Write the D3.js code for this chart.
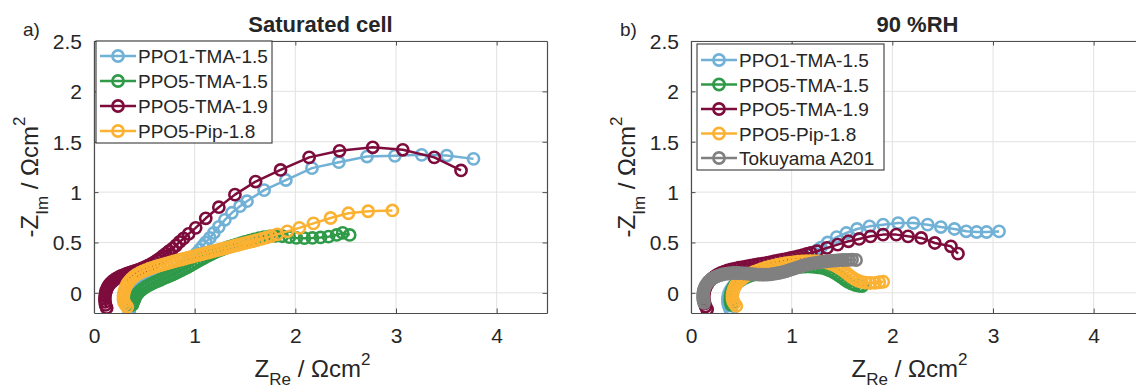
<!DOCTYPE html>
<html><head><meta charset="utf-8">
<script src="https://cdn.jsdelivr.net/npm/d3@7"></script>
<style>
body{margin:0;background:#fff}
svg{display:block}
text{font-family:"Liberation Sans",Arial,Helvetica,sans-serif;fill:#262626}
</style>
</head><body>
<svg id="chart" width="1136" height="392"></svg>
<script>
// ---------- data ----------
const xTicks = [0, 1, 2, 3, 4];
const xTickLabels = ["0", "1", "2", "3", "4"];
const yTicks = [0, 0.5, 1, 1.5, 2, 2.5];
const yTickLabels = ["0", "0.5", "1", "1.5", "2", "2.5"];
const xDomain = [0, 4.5];
const yDomain = [-0.2, 2.5];

const seriesNames = ["PPO1-TMA-1.5", "PPO5-TMA-1.5", "PPO5-TMA-1.9", "PPO5-Pip-1.8", "Tokuyama A201"];
const panelTitles = ["Saturated cell", "90 %RH"];
const panelLetters = ["a)", "b)"];

// Saturated cell
const satPPO1TMA15 = [[0.35,-0.19],[0.345,-0.16],[0.342,-0.13],[0.343,-0.10],[0.347,-0.07],[0.354,-0.045],[0.363,-0.02],[0.375,0.0],[0.39,0.02],[0.41,0.04],[0.43,0.055],[0.455,0.07],[0.48,0.082],[0.51,0.093],[0.54,0.103],[0.57,0.113],[0.60,0.123],[0.63,0.133],[0.66,0.143],[0.69,0.155],[0.72,0.167],[0.75,0.18],[0.78,0.196],[0.81,0.215],[0.84,0.237],[0.87,0.26],[0.90,0.285],[0.93,0.31],[0.96,0.337],[0.99,0.365],[1.02,0.395],[1.05,0.43],[1.08,0.465],[1.11,0.50],[1.15,0.545],[1.19,0.595],[1.24,0.655],[1.30,0.725],[1.37,0.795],[1.45,0.86],[1.52,0.91],[1.69,1.02],[1.906,1.12],[2.165,1.238],[2.432,1.297],[2.712,1.353],[2.989,1.36],[3.255,1.37],[3.504,1.363],[3.77,1.33]];
const satPPO5TMA15 = [[0.38,-0.12],[0.39,-0.095],[0.40,-0.07],[0.41,-0.045],[0.425,-0.02],[0.44,0.0],[0.46,0.02],[0.485,0.04],[0.51,0.058],[0.54,0.075],[0.57,0.09],[0.60,0.104],[0.63,0.117],[0.66,0.13],[0.69,0.143],[0.72,0.156],[0.75,0.169],[0.78,0.182],[0.81,0.196],[0.84,0.21],[0.87,0.225],[0.90,0.24],[0.93,0.256],[0.96,0.273],[0.99,0.29],[1.02,0.307],[1.05,0.324],[1.08,0.34],[1.11,0.356],[1.14,0.372],[1.17,0.387],[1.20,0.401],[1.235,0.416],[1.27,0.43],[1.305,0.443],[1.34,0.456],[1.38,0.469],[1.42,0.482],[1.46,0.494],[1.50,0.506],[1.545,0.518],[1.59,0.53],[1.64,0.542],[1.69,0.553],[1.745,0.561],[1.80,0.565],[1.87,0.562],[1.94,0.553],[2.01,0.545],[2.09,0.543],[2.17,0.545],[2.25,0.55],[2.33,0.558],[2.41,0.575],[2.47,0.595],[2.54,0.575]];
const satPPO5TMA19 = [[0.126,-0.15],[0.115,-0.12],[0.11,-0.09],[0.108,-0.06],[0.11,-0.03],[0.115,0.0],[0.122,0.025],[0.132,0.05],[0.145,0.072],[0.16,0.092],[0.178,0.11],[0.198,0.127],[0.22,0.142],[0.245,0.156],[0.27,0.168],[0.297,0.179],[0.325,0.19],[0.355,0.2],[0.385,0.21],[0.415,0.22],[0.445,0.231],[0.475,0.243],[0.505,0.256],[0.535,0.27],[0.565,0.286],[0.595,0.303],[0.625,0.322],[0.655,0.343],[0.685,0.366],[0.715,0.39],[0.745,0.415],[0.78,0.44],[0.815,0.47],[0.85,0.505],[0.89,0.54],[0.94,0.585],[1.01,0.645],[1.11,0.74],[1.24,0.85],[1.40,0.975],[1.605,1.105],[1.853,1.22],[2.137,1.345],[2.439,1.41],[2.769,1.445],[3.067,1.42],[3.38,1.345],[3.646,1.215]];
const satPPO5Pip18 = [[0.33,-0.14],[0.31,-0.115],[0.298,-0.09],[0.292,-0.06],[0.292,-0.03],[0.297,0.0],[0.305,0.03],[0.316,0.06],[0.33,0.088],[0.348,0.114],[0.37,0.138],[0.395,0.16],[0.422,0.18],[0.452,0.197],[0.484,0.212],[0.516,0.226],[0.55,0.239],[0.585,0.251],[0.62,0.262],[0.655,0.272],[0.69,0.282],[0.725,0.292],[0.76,0.302],[0.795,0.312],[0.83,0.322],[0.865,0.331],[0.90,0.34],[0.935,0.349],[0.97,0.358],[1.005,0.367],[1.04,0.376],[1.075,0.385],[1.11,0.394],[1.145,0.403],[1.18,0.412],[1.215,0.421],[1.25,0.43],[1.285,0.439],[1.32,0.448],[1.355,0.457],[1.39,0.466],[1.425,0.475],[1.46,0.484],[1.50,0.493],[1.54,0.503],[1.58,0.513],[1.62,0.523],[1.665,0.535],[1.71,0.548],[1.76,0.562],[1.82,0.58],[1.92,0.61],[2.04,0.645],[2.18,0.69],[2.35,0.743],[2.527,0.79],[2.723,0.81],[2.964,0.818]];

// 90 %RH
const rhPPO1TMA15 = [[0.40,-0.18],[0.385,-0.155],[0.373,-0.125],[0.367,-0.095],[0.366,-0.065],[0.37,-0.035],[0.378,-0.005],[0.39,0.022],[0.406,0.048],[0.426,0.072],[0.45,0.094],[0.477,0.114],[0.507,0.132],[0.54,0.149],[0.575,0.165],[0.612,0.18],[0.65,0.194],[0.69,0.207],[0.73,0.22],[0.77,0.232],[0.81,0.244],[0.85,0.256],[0.89,0.268],[0.93,0.28],[0.97,0.293],[1.01,0.307],[1.05,0.322],[1.09,0.338],[1.13,0.356],[1.17,0.376],[1.21,0.398],[1.25,0.422],[1.29,0.448],[1.358,0.50],[1.447,0.554],[1.543,0.594],[1.649,0.634],[1.773,0.66],[1.908,0.677],[2.057,0.693],[2.209,0.693],[2.351,0.677],[2.482,0.653],[2.617,0.634],[2.734,0.611],[2.837,0.604],[2.936,0.604],[3.06,0.61]];
const rhPPO5TMA15 = [[0.40,-0.12],[0.392,-0.09],[0.39,-0.06],[0.392,-0.03],[0.398,0.0],[0.408,0.03],[0.422,0.057],[0.44,0.082],[0.462,0.105],[0.488,0.125],[0.517,0.143],[0.55,0.158],[0.585,0.171],[0.622,0.182],[0.66,0.192],[0.70,0.201],[0.74,0.209],[0.78,0.216],[0.82,0.223],[0.86,0.229],[0.90,0.235],[0.94,0.241],[0.98,0.246],[1.02,0.251],[1.06,0.255],[1.10,0.258],[1.14,0.26],[1.18,0.26],[1.22,0.258],[1.26,0.254],[1.30,0.247],[1.34,0.237],[1.375,0.224],[1.41,0.208],[1.44,0.19],[1.47,0.17],[1.50,0.15],[1.53,0.13],[1.56,0.11],[1.595,0.092],[1.63,0.078],[1.67,0.07],[1.70,0.068]];
const rhPPO5TMA19 = [[0.16,-0.165],[0.145,-0.135],[0.135,-0.105],[0.128,-0.075],[0.126,-0.045],[0.128,-0.015],[0.133,0.015],[0.142,0.045],[0.155,0.073],[0.172,0.10],[0.192,0.125],[0.215,0.147],[0.24,0.166],[0.268,0.183],[0.298,0.198],[0.33,0.211],[0.364,0.222],[0.40,0.232],[0.437,0.241],[0.475,0.249],[0.513,0.256],[0.552,0.263],[0.591,0.27],[0.63,0.277],[0.67,0.284],[0.71,0.291],[0.75,0.298],[0.79,0.306],[0.83,0.314],[0.87,0.322],[0.91,0.33],[0.95,0.338],[0.99,0.346],[1.03,0.355],[1.07,0.365],[1.11,0.375],[1.15,0.386],[1.19,0.397],[1.252,0.413],[1.351,0.446],[1.457,0.479],[1.564,0.512],[1.67,0.535],[1.784,0.561],[1.908,0.578],[2.039,0.578],[2.156,0.561],[2.287,0.545],[2.422,0.495],[2.582,0.462],[2.652,0.389]];
const rhPPO5Pip18 = [[0.45,-0.13],[0.43,-0.105],[0.418,-0.08],[0.412,-0.05],[0.412,-0.02],[0.417,0.01],[0.426,0.04],[0.44,0.068],[0.458,0.094],[0.48,0.118],[0.505,0.14],[0.533,0.16],[0.564,0.178],[0.597,0.195],[0.632,0.21],[0.668,0.224],[0.705,0.237],[0.743,0.249],[0.782,0.26],[0.822,0.27],[0.862,0.279],[0.902,0.287],[0.943,0.294],[0.984,0.30],[1.025,0.305],[1.066,0.309],[1.107,0.312],[1.148,0.314],[1.189,0.315],[1.23,0.315],[1.27,0.313],[1.31,0.309],[1.35,0.301],[1.385,0.29],[1.418,0.277],[1.45,0.26],[1.48,0.242],[1.51,0.222],[1.54,0.20],[1.568,0.178],[1.597,0.156],[1.627,0.136],[1.66,0.12],[1.695,0.108],[1.735,0.101],[1.78,0.098],[1.83,0.10],[1.87,0.105],[1.91,0.11]];
const rhTokuyamaA201 = [[0.13,-0.10],[0.124,-0.075],[0.12,-0.05],[0.12,-0.025],[0.122,0.0],[0.127,0.025],[0.134,0.048],[0.144,0.07],[0.157,0.09],[0.172,0.108],[0.19,0.125],[0.21,0.14],[0.232,0.153],[0.256,0.164],[0.282,0.174],[0.31,0.182],[0.34,0.188],[0.37,0.192],[0.40,0.195],[0.43,0.197],[0.46,0.197],[0.49,0.196],[0.52,0.194],[0.55,0.192],[0.58,0.189],[0.61,0.186],[0.64,0.183],[0.67,0.181],[0.70,0.18],[0.73,0.18],[0.76,0.181],[0.79,0.184],[0.82,0.188],[0.85,0.193],[0.88,0.199],[0.91,0.206],[0.94,0.214],[0.97,0.223],[1.00,0.233],[1.03,0.243],[1.06,0.253],[1.09,0.263],[1.12,0.272],[1.15,0.28],[1.18,0.287],[1.21,0.293],[1.24,0.298],[1.27,0.303],[1.30,0.307],[1.33,0.311],[1.36,0.314],[1.39,0.317],[1.42,0.32],[1.45,0.322],[1.48,0.324],[1.51,0.326],[1.54,0.327],[1.57,0.328],[1.60,0.329],[1.64,0.326]];

// ---------- style ----------
const seriesColors = ["#72b1d6", "#2f9a48", "#7d0c3c", "#fbb233", "#808080"];

const panels = [
  {title: panelTitles[0], letter: panelLetters[0], left: 94, top: 41, width: 453, height: 272,
   series: [satPPO1TMA15, satPPO5TMA15, satPPO5TMA19, satPPO5Pip18],
   legend: {x: 96, y: 41, w: 176, h: 102, row0: 15, rowH: 25}},
  {title: panelTitles[1], letter: panelLetters[1], left: 691, top: 41, width: 453, height: 272,
   series: [rhPPO1TMA15, rhPPO5TMA15, rhPPO5TMA19, rhPPO5Pip18, rhTokuyamaA201],
   legend: {x: 697, y: 44, w: 187, h: 126, row0: 16, rowH: 24.5}}
];

const svg = d3.select("#chart");
svg.append("rect").attr("width", 1136).attr("height", 392).attr("fill", "#fff");

panels.forEach((p, pi) => {
  const x = d3.scaleLinear().domain(xDomain).range([p.left, p.left + p.width]);
  const y = d3.scaleLinear().domain(yDomain).range([p.top + p.height, p.top]);
  const g = svg.append("g");

  const clipId = "clip" + pi;
  svg.append("clipPath").attr("id", clipId).append("rect")
    .attr("x", p.left).attr("y", p.top).attr("width", p.width).attr("height", p.height);

  // grid
  g.append("g").selectAll("line").data(xTicks).join("line")
    .attr("x1", d => x(d)).attr("x2", d => x(d)).attr("y1", p.top).attr("y2", p.top + p.height)
    .attr("stroke", "#e2e2e2").attr("stroke-width", 1);
  g.append("g").selectAll("line").data(yTicks).join("line")
    .attr("y1", d => y(d)).attr("y2", d => y(d)).attr("x1", p.left).attr("x2", p.left + p.width)
    .attr("stroke", "#e2e2e2").attr("stroke-width", 1);

  // data
  const line = d3.line().x(d => x(d[0])).y(d => y(d[1]));
  const dg = g.append("g").attr("clip-path", `url(#${clipId})`);
  p.series.forEach((s, si) => {
    const col = seriesColors[si];
    dg.append("path").datum(s).attr("d", line).attr("fill", "none")
      .attr("stroke", col).attr("stroke-width", 2.5).attr("stroke-linejoin", "round");
    dg.append("g").selectAll("circle").data(s).join("circle")
      .attr("cx", d => x(d[0])).attr("cy", d => y(d[1])).attr("r", 5.6)
      .attr("fill", "none").attr("stroke", col).attr("stroke-width", 2.6);
  });

  // axes (box with inward ticks)
  const ax = g.append("g");
  const axB = ax.append("g").attr("transform", `translate(0,${p.top + p.height})`)
    .call(d3.axisBottom(x).tickValues(xTicks).tickFormat((d, i) => xTickLabels[i]).tickSizeInner(-4.5).tickSizeOuter(0).tickPadding(14));
  const axT = ax.append("g").attr("transform", `translate(0,${p.top})`)
    .call(d3.axisTop(x).tickValues(xTicks).tickFormat("").tickSizeInner(-4.5).tickSizeOuter(0));
  const axL = ax.append("g").attr("transform", `translate(${p.left},0)`)
    .call(d3.axisLeft(y).tickValues(yTicks).tickFormat((d, i) => yTickLabels[i]).tickSizeInner(-4.5).tickSizeOuter(0).tickPadding(12));
  const axR = ax.append("g").attr("transform", `translate(${p.left + p.width},0)`)
    .call(d3.axisRight(y).tickValues(yTicks).tickFormat("").tickSizeInner(-4.5).tickSizeOuter(0));
  [axB, axT, axL, axR].forEach(a => {
    a.select(".domain").attr("stroke", "#4d4d4d").attr("stroke-width", 1.2);
    a.selectAll(".tick line").attr("stroke", "#4d4d4d").attr("stroke-width", 1);
    a.selectAll("text").attr("font-size", 21).attr("fill", "#262626")
      .attr("font-family", '"Liberation Sans", Arial, sans-serif');
  });
  axB.selectAll("text").attr("dy", null).attr("y", 30);
  axL.selectAll("text").attr("dy", "0.35em");

  // title
  svg.append("text").attr("x", p.left + p.width / 2).attr("y", 32).attr("text-anchor", "middle")
    .attr("font-size", 22).attr("font-weight", "bold").attr("fill", "#000").text(p.title);
  // panel letter
  svg.append("text").attr("x", p.left - 71).attr("y", 36).attr("font-size", 19).attr("fill", "#000").text(p.letter);

  // x label
  const xl = svg.append("text").attr("x", p.left + p.width / 2 - 8).attr("y", 377).attr("text-anchor", "middle")
    .attr("font-size", 24);
  xl.append("tspan").text("Z");
  xl.append("tspan").attr("font-size", 17).attr("dy", 8).text("Re");
  xl.append("tspan").attr("dy", -8).text(" / \u03A9cm");
  xl.append("tspan").attr("font-size", 17).attr("dy", -12).text("2");

  // y label
  const yl = svg.append("text").attr("transform", `translate(${p.left - 56},${p.top + p.height / 2}) rotate(-90)`)
    .attr("text-anchor", "middle").attr("font-size", 24);
  yl.append("tspan").text("-Z");
  yl.append("tspan").attr("font-size", 17).attr("dy", 10).text("Im");
  yl.append("tspan").attr("dy", -10).text(" / \u03A9cm");
  yl.append("tspan").attr("font-size", 17).attr("dy", -13).text("2");

  // legend
  const L = p.legend;
  const lg = svg.append("g");
  lg.append("rect").attr("x", L.x).attr("y", L.y).attr("width", L.w).attr("height", L.h)
    .attr("fill", "#fff").attr("stroke", "#262626").attr("stroke-width", 1);
  p.series.forEach((s, si) => {
    const cy = L.y + L.row0 + si * L.rowH;
    const col = seriesColors[si];
    lg.append("line").attr("x1", L.x + 4).attr("x2", L.x + 40).attr("y1", cy).attr("y2", cy)
      .attr("stroke", col).attr("stroke-width", 2.5);
    lg.append("circle").attr("cx", L.x + 22).attr("cy", cy).attr("r", 5.6)
      .attr("fill", "none").attr("stroke", col).attr("stroke-width", 2.6);
    lg.append("text").attr("x", L.x + 42).attr("y", cy + 7).attr("font-size", 19).attr("fill", "#000")
      .text(seriesNames[si]);
  });
});
</script>
</body></html>
